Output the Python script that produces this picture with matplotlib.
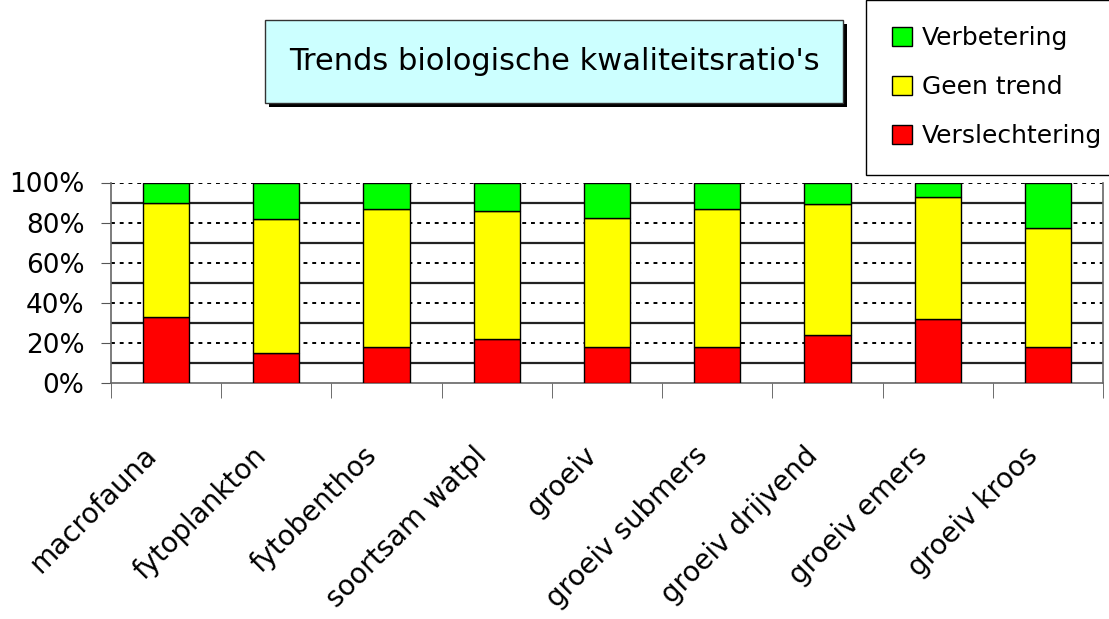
import matplotlib
matplotlib.use('Agg')
from matplotlib import pyplot as plt
from matplotlib.patches import Rectangle
import matplotlib.transforms as mtransforms
import numpy as np

categories = ['macrofauna', 'fytoplankton', 'fytobenthos', 'soortsam watpl', 'groeiv',
              'groeiv submers', 'groeiv drijvend', 'groeiv emers', 'groeiv kroos']
verslechtering = [33, 15, 18, 22, 18, 18, 24, 32, 18]
geen_trend = [57, 67, 69, 64, 64.5, 69, 65.5, 61, 59.5]
verbetering = [10, 18, 13, 14, 17.5, 13, 10.5, 7, 22.5]

plt.rcParams['font.family'] = ['DejaVu Sans']

fig = plt.figure(figsize=(11.09, 6.19), dpi=100)
ax = fig.add_axes([111/1109, 1-383/619, (1103-111)/1109, (383-182.5)/619])

x = np.arange(len(categories))
w = 0.42
b1 = ax.bar(x, verslechtering, w, color='#ff0000', edgecolor='black', linewidth=1, zorder=3, label='Verslechtering')
b2 = ax.bar(x, geen_trend, w, bottom=verslechtering, color='#ffff00', edgecolor='black', linewidth=1, zorder=3, label='Geen trend')
bottom2 = np.array(verslechtering) + np.array(geen_trend)
b3 = ax.bar(x, verbetering, w, bottom=bottom2, color='#00ff00', edgecolor='black', linewidth=1, zorder=3, label='Verbetering')

# gridlines: solid on odd tens, dotted on the labelled ticks
for v in [10, 30, 50, 70, 90]:
    ax.axhline(v, color='#222222', linewidth=1.6, zorder=1)
for v in [20, 40, 60, 80, 100]:
    ax.axhline(v, color='black', linewidth=1.4, linestyle=(0, (2, 2.5)), zorder=1)

ax.set_xlim(-0.5, len(categories) - 0.5)
ax.set_ylim(0, 100)
ax.set_yticks([0, 20, 40, 60, 80, 100])
ax.set_yticklabels(['0%', '20%', '40%', '60%', '80%', '100%'], fontsize=19)
ax.tick_params(axis='y', length=7, color='#555555', pad=12)

ax.set_xticks(x)
ax.set_xticklabels(categories, rotation=45, ha='right', va='top', rotation_mode='anchor', fontsize=20)
ax.tick_params(axis='x', which='major', length=0, pad=42)
shift = mtransforms.ScaledTranslation(-24/100, 0, fig.dpi_scale_trans)
for lbl in ax.get_xticklabels():
    lbl.set_transform(lbl.get_transform() + shift)
ax.set_xticks(np.arange(len(categories) + 1) - 0.5, minor=True)
ax.tick_params(axis='x', which='minor', length=11, color='#555555')

for s in ax.spines.values():
    s.set_color('#666666')
    s.set_linewidth(1.2)
ax.spines['top'].set_visible(False)

# title box with shadow
fig.patches.append(Rectangle((269/1109, 1-107/619), 578/1109, 83/619, transform=fig.transFigure,
                             facecolor='black', edgecolor='none', zorder=1))
fig.patches.append(Rectangle((265/1109, 1-103/619), 578/1109, 83/619, transform=fig.transFigure,
                             facecolor='#ccffff', edgecolor='#333333', linewidth=1, zorder=2))
fig.text((265+289)/1109, 1-62/619, "Trends biologische kwaliteitsratio's", fontsize=22,
         ha='center', va='center', zorder=3)

fig.legend(handles=[b3, b2, b1], loc='upper left', bbox_to_anchor=(866/1109, 1.0),
           fontsize=18, frameon=True, fancybox=False, edgecolor='black', framealpha=1,
           handlelength=0.8, handleheight=0.8, handletextpad=0.4, labelspacing=1.0,
           borderpad=1.05, borderaxespad=0)

fig.savefig('out.png', dpi=100)
